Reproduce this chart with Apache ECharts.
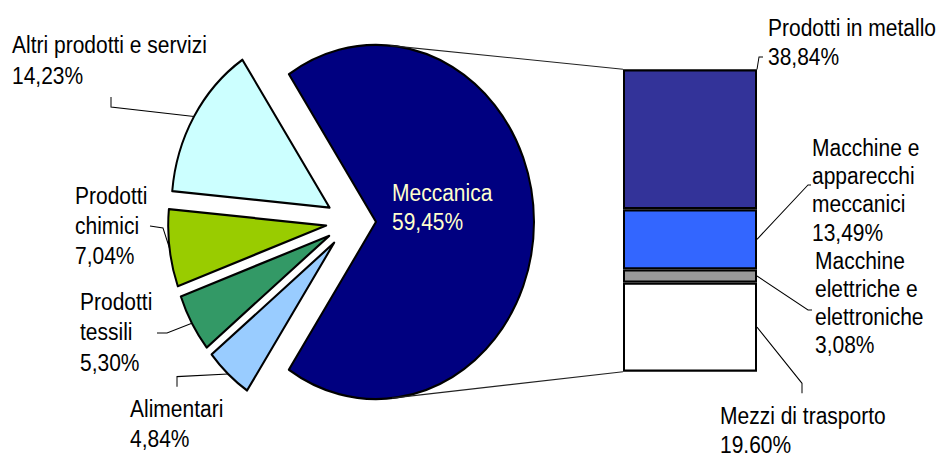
<!DOCTYPE html>
<html lang="it">
<head>
    <meta charset="UTF-8">
    <title>Meccanica - pie of bar</title>
    <script src="https://cdn.jsdelivr.net/npm/echarts@6/dist/echarts.min.js"></script>
    <style>
        html,body{margin:0;background:#fff;}
        #wrap{width:942px;height:454px;overflow:hidden;}
        /* the original picture is stretched vertically, text included */
        #main{width:942px;height:405px;transform:scaleY(1.121);transform-origin:0 0;}
    </style>
</head>
<body>
<div id="wrap"><div id="main"></div></div>
<script>
    // pie slices (clockwise from the right-hand slice)
    var pieNames = ['Meccanica', 'Alimentari', 'Prodotti\ntessili', 'Prodotti\nchimici', 'Altri prodotti e servizi'];
    var pieValues = [68.59, 4.84, 5.30, 7.04, 14.23];   // Meccanica drawn as the remainder of the circle
    var pieLabels = ['59,45%', '4,84%', '5,30%', '7,04%', '14,23%'];
    var pieColors = ['#000080', '#99ccff', '#339966', '#99cc00', '#ccffff'];

    // bar breakdown of Meccanica, top to bottom
    var barNames = ['Prodotti in metallo', 'Macchine e\napparecchi\nmeccanici', 'Macchine\nelettriche e\nelettroniche', 'Mezzi di trasporto'];
    var barLabels = ['38,84%', '13,49%', '3,08%', '19.60%'];
    var barValues = [27.5, 11.8, 2.6, 17.5];   // segment heights as drawn
    var barColors = ['#333399', '#3366ff', '#999999', '#ffffff'];

    var FONT = '"Liberation Sans", Arial, sans-serif';
    var OFFSET = 25;   // explosion of every slice

    // where the labels sit, and the elbow of their leader lines
    var pieLabelPos = [
        {x: 392, y: 159, lh: 26, color: '#ffffcc'},
        {x: 130, y: 351, lh: 27, elbow: [[177, 345], [177, 336]]},
        {x: 80, y: 256, lh: 27, elbow: [[157, 297], [167, 297]]},
        {x: 75, y: 161, lh: 27, elbow: [[150, 201.6], [163, 203.4]]},
        {x: 12, y: 27, lh: 27, elbow: [[111, 86.5], [111, 95.5]]}
    ];
    var barLabelPos = [
        {x: 768, y: 12, lh: 26, at: 0, elbow: [[759, 50.8], [763, 50.8]]},
        {x: 812, y: 120, lh: 25, at: 0.5, elbow: [[808, 165], [811, 165]]},
        {x: 815, y: 220, lh: 25, at: 0.5, elbow: [[808, 276.5], [812, 276.5]]},
        {x: 720, y: 358, lh: 26, at: 0.5, elbow: [[802, 341.9], [802, 350.8]]}
    ];

    var pieTotal = pieValues.reduce(function (a, b) { return a + b; }, 0);
    var barTotal = barValues.reduce(function (a, b) { return a + b; }, 0);

    var chart = echarts.init(document.getElementById('main'), null, {renderer: 'svg'});

    var series = [{
        type: 'pie',
        center: [351, 198],
        radius: 158,
        startAngle: pieValues[0] / pieTotal * 180,  // Meccanica faces the bar
        clockwise: true,
        selectedMode: 'multiple',
        selectedOffset: OFFSET,
        label: {show: false},
        labelLine: {show: false},
        emphasis: {disabled: true},
        animation: false,
        data: pieValues.map(function (v, i) {
            var st = {color: pieColors[i], borderColor: '#000', borderWidth: 2};
            return {name: pieNames[i], value: v, selected: true, itemStyle: st, select: {itemStyle: st}};
        })
    }];
    // stack from the bottom segment up
    for (var i = barValues.length - 1; i >= 0; i--) {
        series.push({
            type: 'bar',
            name: barNames[i],
            stack: 'mecc',
            barWidth: '100%',
            animation: false,
            emphasis: {disabled: true},
            itemStyle: {color: barColors[i], borderColor: '#000', borderWidth: 2},
            data: [barValues[i]]
        });
    }

    chart.setOption({
        backgroundColor: '#fff',
        grid: {left: 623, top: 61.8, width: 134, height: 269.8},
        xAxis: {type: 'category', data: [''], show: false},
        yAxis: {type: 'value', min: 0, max: barTotal, show: false},
        series: series
    });

    // leader lines, labels and the two connector lines
    var model = chart.getModel();
    var pieData = model.getSeriesByIndex(0).getData();
    var graphics = [];

    function sliceDir(idx) {
        var l = pieData.getItemLayout(idx);
        var mid = (l.startAngle + l.endAngle) / 2;
        return {l: l, cos: Math.cos(mid), sin: Math.sin(mid)};
    }

    pieValues.forEach(function (v, i) {
        var p = pieLabelPos[i];
        graphics.push({
            type: 'text', z: 100,
            style: {
                text: pieNames[i] + '\n' + pieLabels[i], x: p.x, y: p.y,
                fill: p.color || '#000', fontSize: 21, fontFamily: FONT,
                lineHeight: p.lh, align: 'left', verticalAlign: 'top'
            }
        });
        if (p.elbow) {
            var d = sliceDir(i);
            var arcPt = [d.l.cx + (d.l.r + OFFSET) * d.cos, d.l.cy + (d.l.r + OFFSET) * d.sin];
            graphics.push({
                type: 'polyline', z: 90,
                shape: {points: p.elbow.concat([arcPt])},
                style: {stroke: '#000', lineWidth: 1, fill: null}
            });
        }
    });

    var segs = [];
    barValues.forEach(function (v, i) {
        var sIdx = 1 + (barValues.length - 1 - i);
        var bl = model.getSeriesByIndex(sIdx).getData().getItemLayout(0);
        var top = Math.min(bl.y, bl.y + bl.height);
        var bottom = Math.max(bl.y, bl.y + bl.height);
        segs.push({left: bl.x, right: bl.x + bl.width, top: top, bottom: bottom});
        var p = barLabelPos[i];
        graphics.push({
            type: 'text', z: 100,
            style: {
                text: barNames[i] + '\n' + barLabels[i], x: p.x, y: p.y,
                fill: '#000', fontSize: 21, fontFamily: FONT,
                lineHeight: p.lh, align: 'left', verticalAlign: 'top'
            }
        });
        var barPt = [bl.x + bl.width, top + p.at * (bottom - top)];
        graphics.push({
            type: 'polyline', z: 90,
            shape: {points: [barPt].concat(p.elbow)},
            style: {stroke: '#000', lineWidth: 1, fill: null}
        });
    });

    // tangents from the bar corners to the Meccanica slice
    var m = sliceDir(0);
    var ox = m.l.cx + OFFSET * m.cos, oy = m.l.cy + OFFSET * m.sin, r = m.l.r;
    function tangent(px, py, side) {
        var dx = px - ox, dy = py - oy;
        var dist = Math.sqrt(dx * dx + dy * dy);
        var a = Math.atan2(dy, dx) + side * Math.acos(r / dist);
        return {type: 'line', z: 90,
            shape: {x1: px, y1: py, x2: ox + r * Math.cos(a), y2: oy + r * Math.sin(a)},
            style: {stroke: '#222', lineWidth: 1}};
    }
    var topSeg = segs[0], botSeg = segs[segs.length - 1];
    graphics.push(tangent(topSeg.left, topSeg.top, -1));
    graphics.push(tangent(botSeg.left, botSeg.bottom, 1));

    chart.setOption({graphic: graphics});
</script>
</body>
</html>
